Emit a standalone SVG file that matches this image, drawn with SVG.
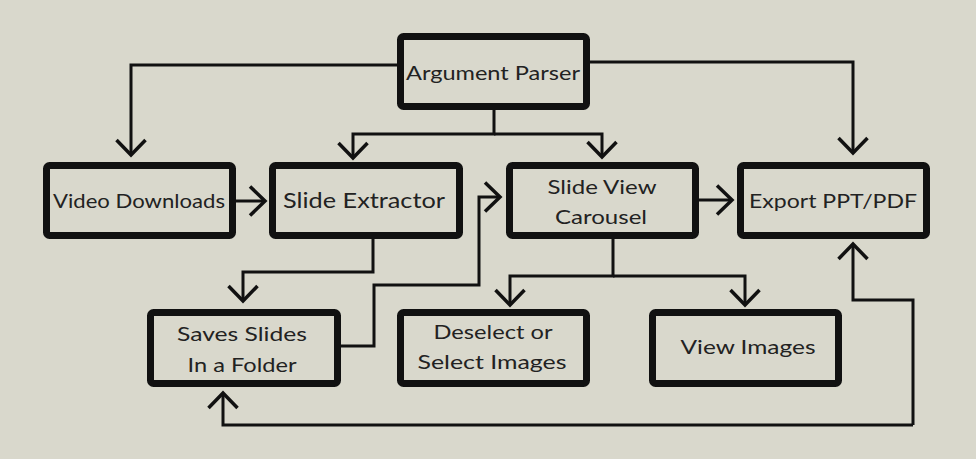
<svg xmlns="http://www.w3.org/2000/svg" width="976" height="459" viewBox="0 0 976 459">
<defs>
<style>
.box{fill:none;stroke:#111;stroke-width:7;stroke-linejoin:round}
.lbl{font-family:Lato,"Noto Sans",sans-serif;fill:#222;text-anchor:middle}
.c{fill:none;stroke:#111;stroke-width:3;stroke-linejoin:miter}
</style>
<marker id="ah" markerUnits="userSpaceOnUse" markerWidth="40" markerHeight="40" viewBox="-20 -20 40 40" refX="0" refY="0" orient="auto" overflow="visible">
<path d="M-15,-14.5 L0,0 L-15,14.5" fill="none" stroke="#111" stroke-width="3.5" stroke-linejoin="miter"/>
</marker>
</defs>
<rect width="976" height="459" fill="#d9d8cc"/>
<g id="connectors">
<path class="c" d="M397,65 H131 V155" marker-end="url(#ah)"/>
<path class="c" d="M590,62 H853 V153" marker-end="url(#ah)"/>
<path class="c" d="M494,110 V134 H353 V158" marker-end="url(#ah)"/>
<path class="c" d="M494,134 H602 V157" marker-end="url(#ah)"/>
<path class="c" d="M236,201 H265" marker-end="url(#ah)"/>
<path class="c" d="M373,238 V272 H243 V301" marker-end="url(#ah)"/>
<path class="c" d="M341,346 H374 V285 H479 V197 H500" marker-end="url(#ah)"/>
<path class="c" d="M699,200 H732" marker-end="url(#ah)"/>
<path class="c" d="M613,238 V276 H510 V305" marker-end="url(#ah)"/>
<path class="c" d="M613,276 H745 V305" marker-end="url(#ah)"/>
<path class="c" d="M913,425 H223 V393" marker-end="url(#ah)"/>
<path class="c" d="M913,425 V300 H853 V244" marker-end="url(#ah)"/>
</g>
<g id="argument-parser">
<rect class="box" x="400.5" y="36.5" width="186" height="70" rx="3"/>
<text class="lbl" x="493" y="80" font-size="20" textLength="174" lengthAdjust="spacingAndGlyphs">Argument Parser</text>
</g>
<g id="video-downloads">
<rect class="box" x="46.5" y="165.5" width="186" height="70" rx="3"/>
<text class="lbl" x="139" y="208" font-size="19" textLength="172" lengthAdjust="spacingAndGlyphs">Video Downloads</text>
</g>
<g id="slide-extractor">
<rect class="box" x="272.5" y="165.5" width="187" height="70" rx="3"/>
<text class="lbl" x="364" y="208" font-size="22" textLength="162" lengthAdjust="spacingAndGlyphs">Slide Extractor</text>
</g>
<g id="slide-view-carousel">
<rect class="box" x="509.5" y="165.5" width="186" height="70" rx="3"/>
<text class="lbl" x="602" y="194" font-size="20" textLength="109" lengthAdjust="spacingAndGlyphs">Slide View</text>
<text class="lbl" x="601" y="224" font-size="20" textLength="92" lengthAdjust="spacingAndGlyphs">Carousel</text>
</g>
<g id="export-ppt-pdf">
<rect class="box" x="740.5" y="165.5" width="186" height="70" rx="3"/>
<text class="lbl" x="833" y="208" font-size="20" textLength="168" lengthAdjust="spacingAndGlyphs">Export PPT/PDF</text>
</g>
<g id="saves-slides">
<rect class="box" x="150.5" y="312.5" width="187" height="71" rx="3"/>
<text class="lbl" x="242" y="341" font-size="20" textLength="130" lengthAdjust="spacingAndGlyphs">Saves Slides</text>
<text class="lbl" x="242" y="372" font-size="20" textLength="109" lengthAdjust="spacingAndGlyphs">In a Folder</text>
</g>
<g id="deselect-select">
<rect class="box" x="400.5" y="312.5" width="186" height="71" rx="3"/>
<text class="lbl" x="493" y="339" font-size="20" textLength="119" lengthAdjust="spacingAndGlyphs">Deselect or</text>
<text class="lbl" x="492" y="369" font-size="20" textLength="149" lengthAdjust="spacingAndGlyphs">Select Images</text>
</g>
<g id="view-images">
<rect class="box" x="652.5" y="312.5" width="186" height="71" rx="3"/>
<text class="lbl" x="748" y="354" font-size="20" textLength="135" lengthAdjust="spacingAndGlyphs">View Images</text>
</g>
</svg>
